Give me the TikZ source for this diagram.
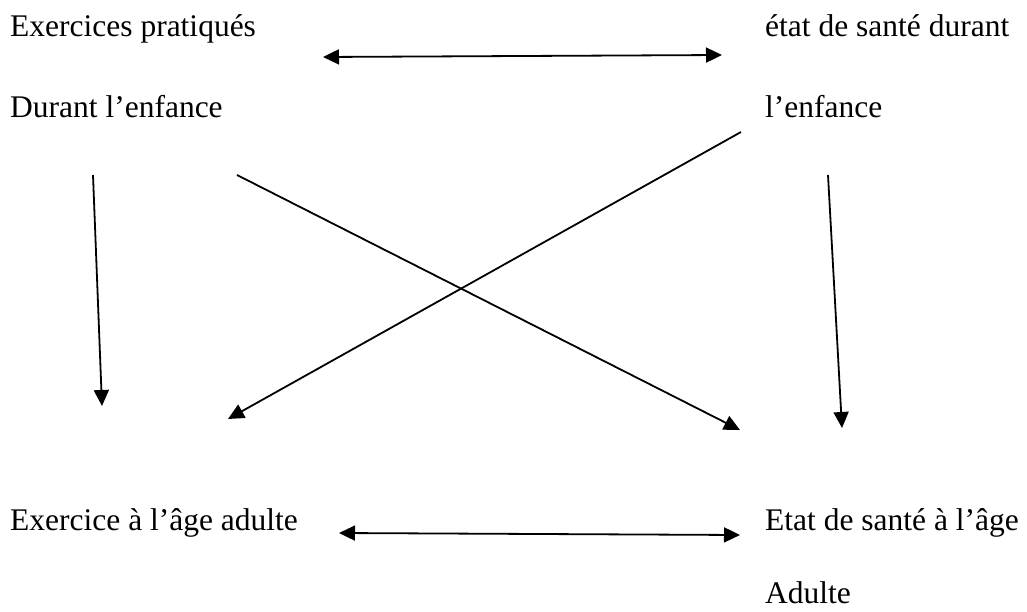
\documentclass[tikz,border=0pt]{standalone}
\usepackage{fontspec}
\setmainfont{Liberation Serif}
\usetikzlibrary{arrows.meta}
\begin{document}
\begin{tikzpicture}[x=1pt,y=-1pt,
  lbl/.style={anchor=base west,inner sep=0pt,font=\fontsize{31.5}{38}\selectfont},
  con/.style={line width=1.8pt,-{Triangle[length=16pt,width=15pt]}},
  bicon/.style={line width=1.8pt,{Triangle[length=16pt,width=15pt]}-{Triangle[length=16pt,width=15pt]}}]
\useasboundingbox (0,0) rectangle (1027,612);
% texts
\node[lbl] (ea1) at (10,37) {Exercices pratiqués};
\node[lbl] (ea2) at (10,118) {Durant l’enfance};
\node[lbl] (sa1) at (765,37) {état de santé durant};
\node[lbl] (sa2) at (765,118) {l’enfance};
\node[lbl] (eb1) at (10,530) {Exercice à l’âge adulte};
\node[lbl] (sb1) at (765,530) {Etat de santé à l’âge};
\node[lbl] (sb2) at (765,603) {Adulte};
% connector ends
\coordinate (t1) at (323,57);
\coordinate (t2) at (722,55);
\coordinate (b1) at (339,533);
\coordinate (b2) at (740,535);
\coordinate (lv1) at (93,175);
\coordinate (lv2) at (102,406);
\coordinate (rv1) at (828,175);
\coordinate (rv2) at (842,428);
\coordinate (d1a) at (237,175);
\coordinate (d1b) at (740,430);
\coordinate (d2a) at (741,132);
\coordinate (d2b) at (228,419);
% connectors
\draw[bicon] (t1) -- (t2);
\draw[bicon] (b1) -- (b2);
\draw[con] (lv1) -- (lv2);
\draw[con] (rv1) -- (rv2);
\draw[con] (d1a) -- (d1b);
\draw[con] (d2a) -- (d2b);
\end{tikzpicture}
\end{document}
